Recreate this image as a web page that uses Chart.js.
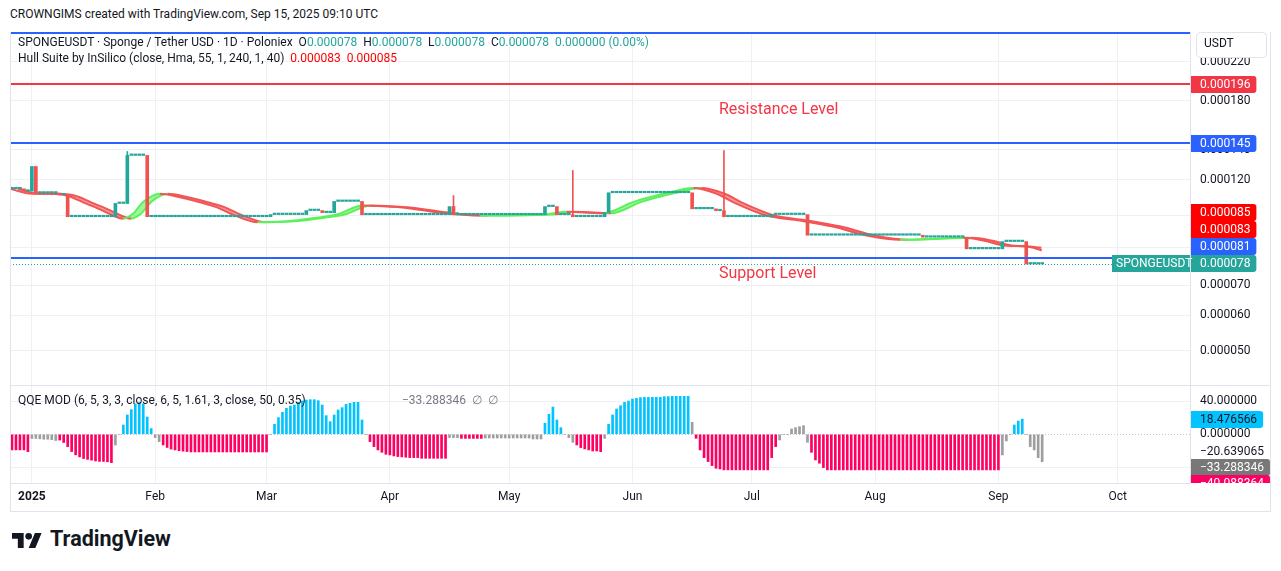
<!DOCTYPE html>
<html><head><meta charset="utf-8">
<script src="https://cdn.jsdelivr.net/npm/chart.js@4.4.0/dist/chart.umd.min.js"></script>
<style>
html,body{margin:0;padding:0;background:#fff;}
body{width:1281px;height:571px;position:relative;overflow:hidden;font-family:Roboto,"Liberation Sans",Arial,sans-serif;color:#131722;}
.abs{position:absolute;white-space:nowrap;}
canvas{position:absolute;}
.ln{position:absolute;background:#E0E3EB;z-index:5;}
.t{color:#26A69A}.r{color:#FF0000}.g{color:#787B86}
</style></head><body>
<div class="abs" style="left:10px;top:7px;font-size:12px;line-height:14px;">CROWNGIMS created with TradingView.com, Sep 15, 2025 09:10 UTC</div>
<canvas id="c1" width="1260" height="353" style="left:10px;top:32px;width:1260px;height:353px"></canvas>
<canvas id="c2" width="1260" height="125" style="left:10px;top:386px;width:1260px;height:125px"></canvas>
<div class="ln" style="left:10px;top:385px;width:1261px;height:1px"></div>
<div class="ln" style="left:10px;top:511px;width:1261px;height:1px"></div>
<div class="ln" style="left:10px;top:32px;width:1px;height:480px"></div>
<div class="ln" style="left:1270px;top:32px;width:1px;height:480px"></div>
<div class="abs" style="left:18px;top:35px;font-size:12px;line-height:14px;z-index:6">SPONGEUSDT · Sponge / Tether USD · 1D · Poloniex&nbsp;&nbsp;O<span class="t">0.000078</span>&nbsp;&nbsp;H<span class="t">0.000078</span>&nbsp;&nbsp;L<span class="t">0.000078</span>&nbsp;&nbsp;C<span class="t">0.000078</span>&nbsp;&nbsp;<span class="t">0.000000 (0.00%)</span></div>
<div class="abs" style="left:18px;top:51px;font-size:12px;line-height:14px;z-index:6">Hull Suite by InSilico (close, Hma, 55, 1, 240, 1, 40)&nbsp;&nbsp;<span class="r">0.000083</span>&nbsp;&nbsp;<span class="r">0.000085</span></div>
<div class="abs" style="left:719px;top:100px;font-size:16px;line-height:18px;color:#F23645;z-index:6">Resistance Level</div>
<div class="abs" style="left:719px;top:264px;font-size:16px;line-height:18px;color:#F23645;z-index:6">Support Level</div>
<div class="abs" style="left:18px;top:393px;font-size:12px;line-height:14px;z-index:6">QQE MOD (6, 5, 3, 3, close, 6, 5, 1.61, 3, close, 50, 0.35)</div>
<div class="abs g" style="left:402px;top:393px;font-size:12px;line-height:14px;z-index:6">−33.288346&nbsp;&nbsp;∅&nbsp;&nbsp;∅</div>
<svg style="position:absolute;left:12px;top:533px" width="30" height="15" viewBox="0 4 36 18"><path fill="#131722" d="M14 22H7V11H0V4h14v18zM28 22h-8l7.5-18h8L28 22z"/><circle fill="#131722" cx="20" cy="8" r="4"/></svg>
<div class="abs" style="left:50px;top:529px;font-size:21.5px;line-height:20px;font-weight:700;color:#131722">TradingView</div>
<script>
// ---------- DATA (prices in micro-USDT, days counted from 2025-01-01) ----------
const firstDay = -5;
const candleOpen = [
114.7,114.7,114.7,114.7,113.3,113.3,128.6,112.2,112.2,112.2,
112.2,112.2,112.2,111.2,111.2,99.4,99.4,99.4,99.4,99.4,
99.4,99.4,99.4,99.4,99.4,99.4,99.4,106.4,106.4,106.4,
136.1,136.1,136.1,136.1,136.1,99.4,99.4,99.4,99.4,99.4,
99.4,99.4,99.4,99.4,99.4,99.4,99.4,99.4,99.4,99.4,
99.4,99.4,99.4,99.4,99.4,99.4,99.4,99.4,99.4,99.4,
99.4,99.4,99.4,99.4,99.4,99.4,100.5,100.5,100.5,100.5,
100.5,100.5,100.5,100.5,100.5,102.6,102.6,102.6,102.6,101.5,
101.5,101.5,107.5,107.5,107.5,107.5,107.5,107.5,107.5,100.4,
100.4,100.4,100.4,100.4,100.4,100.4,100.4,100.4,100.4,100.4,
100.4,100.4,100.4,100.4,100.4,100.4,100.4,100.4,100.4,100.4,
100.4,104.7,100.4,100.4,100.4,100.4,100.4,100.4,100.4,100.4,
100.4,100.4,100.4,100.4,100.4,100.4,100.4,100.4,100.4,100.4,
100.4,100.4,100.4,100.4,100.4,104.7,104.7,104.7,100.4,100.4,
100.4,100.4,99.4,99.4,99.4,99.4,99.4,99.4,99.4,99.4,
101.6,112.4,112.4,112.4,112.4,112.4,112.4,112.4,112.4,112.4,
112.4,112.4,112.4,112.4,112.4,112.4,112.4,112.4,112.4,112.4,
112.4,112.4,103.5,103.5,103.5,103.5,103.5,103.5,102.5,102.5,
99.4,99.4,99.4,99.4,99.4,99.4,99.4,99.4,99.4,99.4,
99.4,99.4,100.5,100.5,100.5,100.5,100.5,100.5,100.5,100.5,
100.5,90.4,90.4,90.4,90.4,90.4,90.4,90.4,90.4,90.4,
90.4,90.4,90.4,90.4,90.4,90.4,90.4,90.4,90.4,90.4,
90.4,90.4,90.4,90.4,90.4,90.4,90.4,90.4,90.4,90.4,
89.5,89.5,89.5,89.5,89.5,89.5,89.5,89.5,89.5,89.5,
89.5,84.3,84.3,84.3,84.3,84.3,84.3,84.3,84.3,84.3,
87.5,87.5,87.5,87.5,87.5,87.5,78,78,78,78];
const candleClose = [
114.7,114.7,114.7,113.3,113.3,128.6,112.2,112.2,112.2,112.2,
112.2,112.2,111.2,111.2,99.4,99.4,99.4,99.4,99.4,99.4,
99.4,99.4,99.4,99.4,99.4,99.4,106.4,106.4,106.4,136.1,
136.1,136.1,136.1,136.1,99.4,99.4,99.4,99.4,99.4,99.4,
99.4,99.4,99.4,99.4,99.4,99.4,99.4,99.4,99.4,99.4,
99.4,99.4,99.4,99.4,99.4,99.4,99.4,99.4,99.4,99.4,
99.4,99.4,99.4,99.4,99.4,100.5,100.5,100.5,100.5,100.5,
100.5,100.5,100.5,100.5,102.6,102.6,102.6,102.6,101.5,101.5,
101.5,107.5,107.5,107.5,107.5,107.5,107.5,107.5,100.4,100.4,
100.4,100.4,100.4,100.4,100.4,100.4,100.4,100.4,100.4,100.4,
100.4,100.4,100.4,100.4,100.4,100.4,100.4,100.4,100.4,100.4,
104.7,100.4,100.4,100.4,100.4,100.4,100.4,100.4,100.4,100.4,
100.4,100.4,100.4,100.4,100.4,100.4,100.4,100.4,100.4,100.4,
100.4,100.4,100.4,100.4,104.7,104.7,104.7,100.4,100.4,100.4,
100.4,99.4,99.4,99.4,99.4,99.4,99.4,99.4,99.4,101.6,
112.4,112.4,112.4,112.4,112.4,112.4,112.4,112.4,112.4,112.4,
112.4,112.4,112.4,112.4,112.4,112.4,112.4,112.4,112.4,112.4,
112.4,103.5,103.5,103.5,103.5,103.5,103.5,102.5,102.5,99.4,
99.4,99.4,99.4,99.4,99.4,99.4,99.4,99.4,99.4,99.4,
99.4,100.5,100.5,100.5,100.5,100.5,100.5,100.5,100.5,100.5,
90.4,90.4,90.4,90.4,90.4,90.4,90.4,90.4,90.4,90.4,
90.4,90.4,90.4,90.4,90.4,90.4,90.4,90.4,90.4,90.4,
90.4,90.4,90.4,90.4,90.4,90.4,90.4,90.4,90.4,89.5,
89.5,89.5,89.5,89.5,89.5,89.5,89.5,89.5,89.5,89.5,
84.3,84.3,84.3,84.3,84.3,84.3,84.3,84.3,84.3,87.5,
87.5,87.5,87.5,87.5,87.5,78,78,78,78,78];
const wickDay  = [24, 106, 107, 136, 174];
const wickHigh = [138.9, 110.8, 101.6, 126.0, 139.6];
const wickLow  = [106.4, 100.4, 100.4, 99.4, 99.4];

const hullDay = [-5.5,0,4.5,8.7,12.8,17.1,20.4,22.9,25.4,27.9,30.4,32.2,36.4,42.2,46.4,50.5,56.8,63.1,71.6,76.6,83.2,88.3,92.5,105.1,112.6,128.5,134.4,143.6,151.1,159.6,166.3,172.2,176.3,184.7,193.1,201.4,209.9,218.3,226.6,234.2,239.2,244.2,247.6,251.8,253.9];
const hullValue = [114.7,111.8,111.8,110.8,107.1,103.2,100.0,98.4,100.9,107.1,110.8,111.8,110.3,107.1,104.4,100.5,96.6,97.0,98.9,100.5,105.3,104.9,104.4,100.9,100.0,100.5,101.9,101.2,107.1,112.2,115.2,111.8,107.1,100.0,97.5,94.5,90.3,88.3,88.8,89.2,88.0,85.8,85.5,84.8,83.6];

const qqeHist = [
-19,-19,-19,-19,-21.1,-5,-5,-5.5,-6,-6,
-6.5,-7.5,-7,-10,-15,-21,-25,-27.5,-29.5,-30.5,
-31.5,-32.5,-33,-33,-33.5,-34.5,-13,0,11.3,23.5,
30,37,38.5,37,21,7,-4,-8.9,-13,-16,
-18,-19,-20,-20.5,-21,-21.5,-21.5,-21.5,-21.5,-21.5,
-21.5,-21.5,-21.5,-21.5,-21.5,-21.5,-21.5,-21.5,-21.5,-21.5,
-21.5,-21.5,-21.5,-21.5,-21.5,0,12.2,20.3,26.7,31.6,
34.4,35.6,38.9,40.5,41.7,42.1,42.1,40.9,35.6,22.7,
15.4,23.5,29.6,32.4,36.5,37.7,38.9,38.9,17.4,0,
-8.9,-15,-19,-21.9,-24.3,-25.1,-26.3,-27.1,-27.5,-27.9,
-28.4,-28.4,-28.4,-29.2,-29.2,-29.2,-29.2,-29.2,-29.2,-29.2,
-4,-4,-4,-5,-5,-5,-5,-5,-5,-4.5,
-4.5,-4.5,-4.5,-4.5,-4.5,-4.5,-4.5,-4.5,-4.5,-4.5,
-4.5,-5.7,-5.7,-5.7,13.4,24.3,33.2,17.4,8.1,0,
-4,-9.7,-13,-16.2,-17.8,-19,-20.3,-20.3,-21.1,-4.9,
12.2,23.5,30.8,34.8,38.9,40.5,42.9,43.7,44.6,45,
45,45,45,45,45.8,45.8,46.2,46.2,46.2,46.2,
46.2,14.6,-4.9,-19,-28.4,-33.2,-38.1,-41.3,-42.1,-43.3,
-43.3,-43.3,-43.3,-43.3,-43.3,-43.3,-43.3,-43.3,-43.3,-43.3,
-43.3,-28.4,-15,-6.9,0,0,6.5,8.1,9.3,10.5,
-9.7,-21.9,-31.2,-35.2,-40.5,-43.3,-43.3,-43.3,-43.3,-43.3,
-43.3,-43.3,-43.3,-43.3,-43.3,-43.3,-43.3,-43.3,-43.3,-43.3,
-43.3,-43.3,-43.3,-43.3,-43.3,-43.3,-43.3,-43.3,-43.3,-43.3,
-43.3,-43.3,-43.3,-43.3,-43.3,-43.3,-43.3,-43.3,-43.3,-43.3,
-43.3,-43.3,-43.3,-43.3,-43.3,-43.3,-43.3,-43.3,-43.3,-25.1,
-8.1,0,11.3,16.2,18.476566,0,-15,-19,-28.4,-33.288346];
// R = red (falling), B = blue (rising), G = gray (neutral)
const qqeState =
'RRRRRGGGGG'+'GGRRRRRRRR'+'RRRRRRGGBB'+'BBBBBBGGRR'+'RRRRRRRRRR'+'RRRRRRRRRR'+'RRRRRGBBBB'+
'BBBBBBBBBB'+'BBBBBBBBBG'+'RRRRRRRRRR'+'RRRRRRRRRR'+'GGGRRRRRRG'+'GGGGGGGGGG'+'GGGGBBBBBG'+
'GGRRRRRRRG'+'BBBBBBBBBB'+'BBBBBBBBBB'+'BGRRRRRRRR'+'RRRRRRRRRR'+'RRRGGGGGGG'+'GRRRRRRRRR'+
'RRRRRRRRRR'+'RRRRRRRRRR'+'RRRRRRRRRR'+'RRRRRRRRRG'+'GGBBBGGGGG';

const levelValues = [255, 196, 145, 80.55];            // drawn horizontal lines
const priceBadgeValues = [0.000196, 0.000145, 0.000085, 0.000083, 0.000081, 0.000078];
const qqeAxisValues = [18.476566, -20.639065, -33.288346, -40.088364];
const priceTicks = [50, 60, 70, 85, 100, 120, 140, 180, 220];
const qqeTicks = [40, 0, -40];
const monthDays = [0, 31, 59, 90, 120, 151, 181, 212, 243, 273];
const monthLabels = ['2025', 'Feb', 'Mar', 'Apr', 'May', 'Jun', 'Jul', 'Aug', 'Sep', 'Oct'];

// ---------- STYLE ----------
const U = 1e-6;
const TEAL = '#26A69A', RED = '#EF5350';
const HULL_UP = '#5CF05C', HULL_DN = '#F25555';
const HULL_UP_F = 'rgba(92,240,92,0.6)', HULL_DN_F = 'rgba(242,85,85,0.6)';
const GRID = '#EEF0F4', BORDER = '#E0E3EB', TXT = '#131722';
const levelColors = ['#2962FF', '#F23645', '#2962FF', '#2962FF'];
const priceBadgeColors = ['#F23645', '#2962FF', '#FF0000', '#FF0000', '#2962FF', '#26A69A'];
const qqeBadgeBg = ['#00C3FF', null, '#787878', '#FF0062'];
const qqeBadgeFg = [TXT, TXT, '#FFFFFF', '#FFFFFF'];
const QQE_COL = {R: '#FF0062', B: '#00C3FF', G: '#9E9E9E'};
const FONT = 'Roboto, "Liberation Sans", Arial, sans-serif';
const X_MIN = -5.5, X_MAX = 291.17;
const lastDay = firstDay + candleClose.length - 1;

Chart.defaults.font.family = FONT;
Chart.defaults.font.size = 12;
Chart.defaults.color = TXT;

function rr(ctx, x, y, w, h, r) {
  ctx.beginPath();
  ctx.moveTo(x, y); ctx.lineTo(x + w - r, y); ctx.quadraticCurveTo(x + w, y, x + w, y + r);
  ctx.lineTo(x + w, y + h - r); ctx.quadraticCurveTo(x + w, y + h, x + w - r, y + h);
  ctx.lineTo(x, y + h); ctx.closePath();
}
function badge(ctx, x, yc, text, bg, fg) {
  ctx.font = '12px ' + FONT;
  const w = ctx.measureText(text).width + 15, h = 17;
  if (bg) { ctx.fillStyle = bg; rr(ctx, x, Math.round(yc - h / 2), w, h, 3); ctx.fill(); }
  ctx.fillStyle = fg; ctx.textAlign = 'left'; ctx.textBaseline = 'middle';
  ctx.fillText(text, x + 9, yc + 0.5);
}
const monthTicks = s => { s.ticks = monthDays.map(v => ({value: v})); };

// ---------- PRICE PANE ----------
const hullUp = c => c.p1.parsed.y > c.p0.parsed.y;
const pricePlugin = {
  id: 'pricePlugin',
  afterDatasetsDraw(chart) {
    const {ctx, chartArea: a, scales: {y}} = chart;
    ctx.save();
    ctx.beginPath(); ctx.rect(a.left, a.top, a.right - a.left, a.bottom - a.top); ctx.clip();
    levelValues.forEach((v, i) => {
      const py = Math.round(y.getPixelForValue(v * U));
      ctx.strokeStyle = levelColors[i]; ctx.lineWidth = 2;
      ctx.beginPath(); ctx.moveTo(a.left, py); ctx.lineTo(a.right, py); ctx.stroke();
    });
    const lp = Math.round(y.getPixelForValue(candleClose[candleClose.length - 1] * U)) + 0.5;
    ctx.setLineDash([1, 2]); ctx.strokeStyle = TEAL; ctx.lineWidth = 1;
    ctx.beginPath(); ctx.moveTo(a.left, lp); ctx.lineTo(a.right - 78, lp); ctx.stroke();
    ctx.restore();
  },
  afterDraw(chart) {
    const {ctx, chartArea: a, scales: {y}} = chart;
    ctx.save();
    const items = priceBadgeValues.map((v, i) => ({v, i, y: y.getPixelForValue(v)}));
    items.sort((p, q) => q.y - p.y);
    let prev = Infinity;
    items.forEach(it => { it.y = Math.min(it.y, prev - 17); prev = it.y; });
    items.forEach(it => badge(ctx, a.right + 1, it.y, it.v.toFixed(6), priceBadgeColors[it.i], '#FFFFFF'));
    const lastY = items.find(it => it.v === 0.000078).y;
    ctx.fillStyle = TEAL; ctx.fillRect(a.right - 78, Math.round(lastY - 8.5), 78, 17);
    ctx.fillStyle = '#FFFFFF'; ctx.font = '12px ' + FONT; ctx.textBaseline = 'middle'; ctx.textAlign = 'left';
    ctx.fillText('SPONGEUSDT', a.right - 74, lastY + 0.5);
    ctx.fillStyle = '#FFFFFF'; ctx.strokeStyle = BORDER; ctx.lineWidth = 1;
    ctx.beginPath(); ctx.roundRect(a.right + 6.5, 0.5, 70, 25, 4); ctx.fill(); ctx.stroke();
    ctx.fillStyle = TXT; ctx.fillText('USDT', a.right + 14, 12);
    ctx.restore();
  }
};

new Chart(document.getElementById('c1'), {
  type: 'bar',
  data: {
    datasets: [
      { label: 'body', order: 0, grouped: false, barThickness: 3, minBarLength: 1.5, borderWidth: 0,
        data: candleOpen.map((o, i) => ({x: firstDay + i, y: [o * U, candleClose[i] * U]})),
        backgroundColor: c => candleClose[c.dataIndex] >= candleOpen[c.dataIndex] ? TEAL : RED },
      { label: 'wick', order: 0, grouped: false, barThickness: 1, borderWidth: 0,
        data: wickDay.map((d, i) => ({x: d, y: [wickLow[i] * U, wickHigh[i] * U]})),
        backgroundColor: c => { const k = wickDay[c.dataIndex] - firstDay; return candleClose[k] >= candleOpen[k] ? TEAL : RED; } },
      { type: 'line', label: 'hull', order: 2, borderWidth: 2, pointRadius: 0, cubicInterpolationMode: 'monotone',
        data: hullDay.map((d, i) => ({x: d, y: hullValue[i] * U})), borderColor: HULL_DN, fill: false,
        segment: { borderColor: c => hullUp(c) ? HULL_UP : HULL_DN } },
      { type: 'line', label: 'hull[2]', order: 2, borderWidth: 2, pointRadius: 0, cubicInterpolationMode: 'monotone',
        data: hullDay.map((d, i) => ({x: d + 2, y: hullValue[i] * U})).filter(p => p.x <= lastDay),
        borderColor: HULL_DN, backgroundColor: HULL_DN_F, fill: '-1',
        segment: { borderColor: c => hullUp(c) ? HULL_UP : HULL_DN, backgroundColor: c => hullUp(c) ? HULL_UP_F : HULL_DN_F } }
    ]
  },
  options: {
    responsive: false, animation: false, events: [], devicePixelRatio: 1,
    layout: {padding: 0},
    plugins: {legend: {display: false}, tooltip: {enabled: false}},
    scales: {
      x: { type: 'linear', min: X_MIN, max: X_MAX, offset: false, bounds: 'data',
        afterBuildTicks: monthTicks,
        afterFit: s => { s.height = 0; s.paddingLeft = 0; s.paddingRight = 0; },
        ticks: {display: false}, grid: {color: GRID, drawTicks: false, offset: false}, border: {display: false} },
      y: { type: 'logarithmic', position: 'right', min: 41.94 * U, max: 256.3 * U,
        afterBuildTicks: s => { s.ticks = priceTicks.map(v => ({value: v * U})); },
        afterFit: s => { s.width = 80; s.paddingTop = 0; s.paddingBottom = 0; },
        ticks: {callback: v => Number(v).toFixed(6), autoSkip: false, padding: 10, color: TXT, font: {size: 12}},
        grid: {color: GRID, drawTicks: false}, border: {display: true, color: BORDER} }
    }
  },
  plugins: [pricePlugin]
});

// ---------- QQE PANE ----------
const qqePlugin = {
  id: 'qqePlugin',
  beforeDatasetsDraw(chart) {
    const {ctx, chartArea: a, scales: {y}} = chart;
    const py = Math.round(y.getPixelForValue(0)) + 0.5;
    ctx.save(); ctx.setLineDash([1, 2]); ctx.strokeStyle = '#C3C6CE'; ctx.lineWidth = 1;
    ctx.beginPath(); ctx.moveTo(a.left, py); ctx.lineTo(a.right, py); ctx.stroke(); ctx.restore();
  },
  afterDraw(chart) {
    const {ctx, chartArea: a, scales: {y}} = chart;
    ctx.save();
    ctx.beginPath(); ctx.rect(a.right + 1, a.top, 80, a.bottom - a.top); ctx.clip();
    let prev = -Infinity;
    qqeAxisValues.forEach((v, i) => {
      const py = Math.max(y.getPixelForValue(v), prev + 16); prev = py;
      badge(ctx, a.right + 1, py, (v < 0 ? '−' : '') + Math.abs(v).toFixed(6), qqeBadgeBg[i], qqeBadgeFg[i]);
    });
    ctx.restore();
  }
};

new Chart(document.getElementById('c2'), {
  type: 'bar',
  data: {
    datasets: [{
      label: 'QQE', grouped: false, barThickness: 2, borderWidth: 0,
      data: qqeHist.map((v, i) => ({x: firstDay + i, y: v})),
      backgroundColor: c => QQE_COL[qqeState[c.dataIndex]]
    }]
  },
  options: {
    responsive: false, animation: false, events: [], devicePixelRatio: 1,
    layout: {padding: 0},
    plugins: {legend: {display: false}, tooltip: {enabled: false}},
    scales: {
      x: { type: 'linear', min: X_MIN, max: X_MAX, offset: false, bounds: 'data',
        afterBuildTicks: monthTicks,
        afterFit: s => { s.height = 28; s.paddingLeft = 0; s.paddingRight = 0; },
        ticks: {callback: (v, i) => monthLabels[i], autoSkip: false, maxRotation: 0, padding: 7, color: TXT,
          font: c => ({size: 12, weight: (c.index === 0) ? 'bold' : 'normal'})},
        grid: {color: GRID, drawTicks: false, offset: false}, border: {display: true, color: BORDER} },
      y: { type: 'linear', position: 'right', min: -59.25, max: 58.76,
        afterBuildTicks: s => { s.ticks = qqeTicks.map(v => ({value: v})); },
        afterFit: s => { s.width = 80; s.paddingTop = 0; s.paddingBottom = 0; },
        ticks: {callback: v => v === -40 ? '' : Number(v).toFixed(6), autoSkip: false, padding: 10, color: TXT},
        grid: {color: c => (c.tick && c.tick.value === 0) ? 'rgba(0,0,0,0)' : GRID, drawTicks: false},
        border: {display: true, color: BORDER} }
    }
  },
  plugins: [qqePlugin]
});
</script>
</body></html>
